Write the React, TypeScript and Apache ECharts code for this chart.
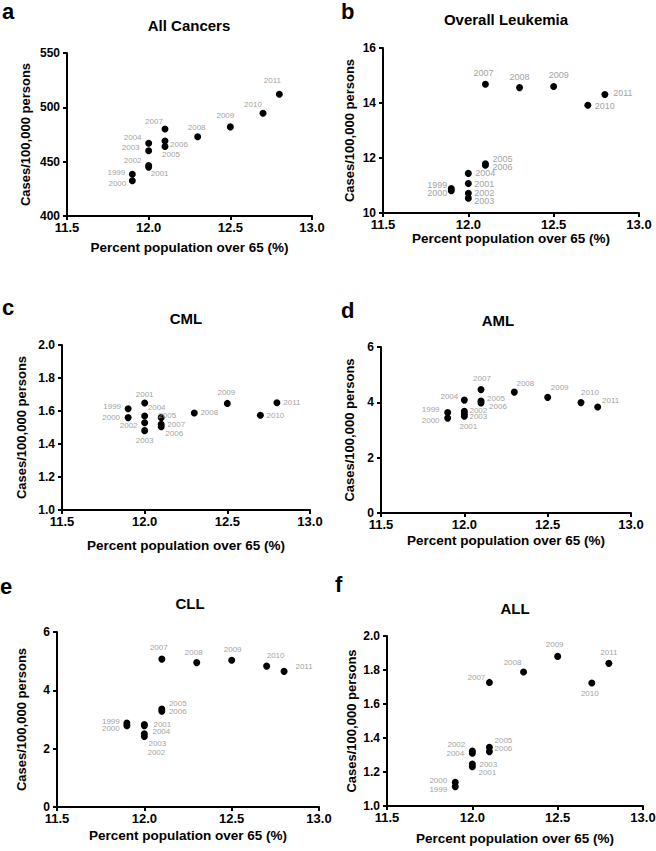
import React, { useEffect, useRef } from 'react';
import * as echarts from 'echarts';

// ---------- data ----------
const years = ['1999', '2000', '2001', '2002', '2003', '2004', '2005', '2006', '2007', '2008', '2009', '2010', '2011'];
const pctOver65 = [11.9, 11.9, 12.0, 12.0, 12.0, 12.0, 12.1, 12.1, 12.1, 12.3, 12.5, 12.7, 12.8];
const allCancers = [438.5, 432.5, 445, 446.5, 460, 467, 464, 469, 480, 473, 482, 494.5, 512];
const overallLeukemia = [10.89, 10.81, 11.07, 10.72, 10.54, 11.44, 11.79, 11.74, 14.68, 14.56, 14.6, 13.92, 14.31];
const cml = [1.614, 1.56, 1.648, 1.529, 1.481, 1.57, 1.56, 1.505, 1.519, 1.588, 1.646, 1.574, 1.65];
const aml = [3.63, 3.43, 3.5, 3.68, 3.58, 4.08, 4.05, 3.98, 4.46, 4.37, 4.18, 3.99, 3.83];
const cll = [2.88, 2.79, 2.83, 2.42, 2.51, 2.79, 3.36, 3.28, 5.07, 4.95, 5.03, 4.83, 4.65];
const allLeuk = [1.114, 1.139, 1.231, 1.324, 1.247, 1.31, 1.345, 1.32, 1.727, 1.788, 1.88, 1.724, 1.839];

const panelTitles = ['All Cancers', 'Overall Leukemia', 'CML', 'AML', 'CLL', 'ALL'];
const panelLetters = ['a', 'b', 'c', 'd', 'e', 'f'];
const xTicks = [11.5, 12.0, 12.5, 13.0];
const yTicksA = [400, 450, 500, 550];
const yTicksB = [10, 12, 14, 16];
const yTicksC = [1.0, 1.2, 1.4, 1.6, 1.8, 2.0];
const yTicksD = [0, 2, 4, 6];
const yTicksE = [0, 2, 4, 6];
const yTicksF = [1.0, 1.2, 1.4, 1.6, 1.8, 2.0];

const xLabel = 'Percent population over 65 (%)';
const yLabel = 'Cases/100,000 persons';

// ---------- layout / style (not data) ----------
const FONT = '"Liberation Sans", Arial, Helvetica, sans-serif';

const panels = [
  { ys: allCancers, ticks: yTicksA, dec: 0, grid: { left: 67, top: 53, width: 245, height: 163 }, title: [189, 25], letter: [2, 0], labelSize: 8, xGap: 24, yGap: 35,
    off: [[-16, -2], [-15, 3], [11, 6], [-16, -5], [-18, -3], [-16, -6], [6, 8], [14, 3], [-11, -8], [-1, -9], [-5, -11], [-10, -9], [-7, -14]] },
  { ys: overallLeukemia, ticks: yTicksB, dec: 0, grid: { left: 383, top: 48, width: 256, height: 165 }, title: [506, 19], letter: [341, 0], labelSize: 9, xGap: 18, yGap: 27,
    off: [[-14, -4], [-14, 2], [16, 0], [16, 0], [16, 3], [17, 0], [17, -5], [17, 2], [-2, -11], [0, -11], [5, -12], [17, 1], [18, -1]] },
  { ys: cml, ticks: yTicksC, dec: 1, grid: { left: 62, top: 345, width: 248, height: 165 }, title: [186, 318], letter: [2, 296], labelSize: 8, xGap: 28, yGap: 34,
    off: [[-16, -2], [-17, 0], [0, -9], [-16, 3], [0, 10], [12, -8], [6, -2], [13, 7], [15, 0], [15, 0], [-1, -11], [15, 0], [15, 0]] },
  { ys: aml, ticks: yTicksD, dec: 0, grid: { left: 381, top: 347, width: 250, height: 166 }, title: [498, 320], letter: [341, 299], labelSize: 8, xGap: 20, yGap: 25,
    off: [[-17, -3], [-17, 2], [4, 10], [14, -1], [14, 3], [-15, -4], [15, -2], [17, 4], [1, -11], [11, -9], [12, -10], [9, -10], [13, -7]] },
  { ys: cll, ticks: yTicksE, dec: 0, grid: { left: 57, top: 632, width: 262, height: 175 }, title: [190, 603], letter: [0, 575], labelSize: 8, xGap: 21, yGap: 29,
    off: [[-16, -2], [-16, 3], [18, 0], [12, 16], [13, 10], [17, 6], [16, -6], [16, 0], [-3, -12], [-3, -10], [1, -11], [9, -11], [20, -5]] },
  { ys: allLeuk, ticks: yTicksF, dec: 1, grid: { left: 387, top: 636, width: 256, height: 170 }, title: [515, 608], letter: [335, 573], labelSize: 8, xGap: 25, yGap: 29,
    off: [[-17, 3], [-17, -2], [15, 6], [-16, -6], [16, 0], [-17, 0], [14, -7], [14, -3], [-13, -5], [-11, -10], [-3, -12], [-2, 11], [0, -11]] },
];

export default function App() {
  const ref = useRef<HTMLDivElement>(null);

  useEffect(() => {
    if (!ref.current) return;
    const chart = echarts.init(ref.current, undefined, { renderer: 'svg' });

    const grids: any[] = [];
    const xAxes: any[] = [];
    const yAxes: any[] = [];
    const series: any[] = [];
    const graphics: any[] = [];

    panels.forEach((p, i) => {
      grids.push({ ...p.grid, outerBoundsMode: 'none', containLabel: false });
      const axisLine = { show: true, onZero: false, lineStyle: { color: '#000', width: 2 } };
      const axisTick = { show: true, length: 4, lineStyle: { color: '#000', width: 2 } };
      xAxes.push({
        type: 'value', gridIndex: i, min: xTicks[0], max: xTicks[xTicks.length - 1], interval: 0.5,
        axisLine, axisTick, splitLine: { show: false },
        axisLabel: { color: '#000', fontFamily: FONT, fontWeight: 700, fontSize: 13, margin: 5,
          formatter: (v: number) => v.toFixed(1) },
        name: xLabel, nameLocation: 'middle', nameGap: p.xGap, nameMoveOverlap: false,
        nameTextStyle: { color: '#000', fontFamily: FONT, fontWeight: 700, fontSize: 13.5 },
      });
      const t = p.ticks;
      yAxes.push({
        type: 'value', gridIndex: i, min: t[0], max: t[t.length - 1], interval: t[1] - t[0],
        axisLine, axisTick, splitLine: { show: false },
        axisLabel: { color: '#000', fontFamily: FONT, fontWeight: 700, fontSize: 12, margin: 7,
          formatter: (v: number) => v.toFixed(p.dec) },
        name: yLabel, nameLocation: 'middle', nameGap: p.yGap, nameMoveOverlap: false,
        nameTextStyle: { color: '#000', fontFamily: FONT, fontWeight: 700, fontSize: 13 },
      });
      series.push({
        type: 'scatter', xAxisIndex: i, yAxisIndex: i, symbol: 'circle', symbolSize: 7,
        itemStyle: { color: '#000', opacity: 1 },
        label: { show: true, position: 'inside', color: '#a3a3a3', fontFamily: FONT, fontSize: p.labelSize,
          formatter: (d: any) => d.name },
        emphasis: { disabled: true },
        data: years.map((y, k) => ({ name: y, value: [pctOver65[k], p.ys[k]], label: { offset: p.off[k] } })),
      });
      graphics.push({
        type: 'text', x: p.title[0], y: p.title[1],
        style: { text: panelTitles[i], fill: '#000', font: `bold 15px ${FONT}`, align: 'center', verticalAlign: 'middle' },
      });
      graphics.push({
        type: 'text', x: p.letter[0], y: p.letter[1],
        style: { text: panelLetters[i], fill: '#000', font: `bold 22px ${FONT}`, align: 'left', verticalAlign: 'top' },
      });
    });

    chart.setOption({
      animation: false,
      backgroundColor: '#fff',
      grid: grids,
      xAxis: xAxes,
      yAxis: yAxes,
      series,
      graphic: graphics,
    });
    return () => chart.dispose();
  }, []);

  return <div ref={ref} style={{ position: 'absolute', left: 0, top: 0, width: 656, height: 851 }} />;
}
